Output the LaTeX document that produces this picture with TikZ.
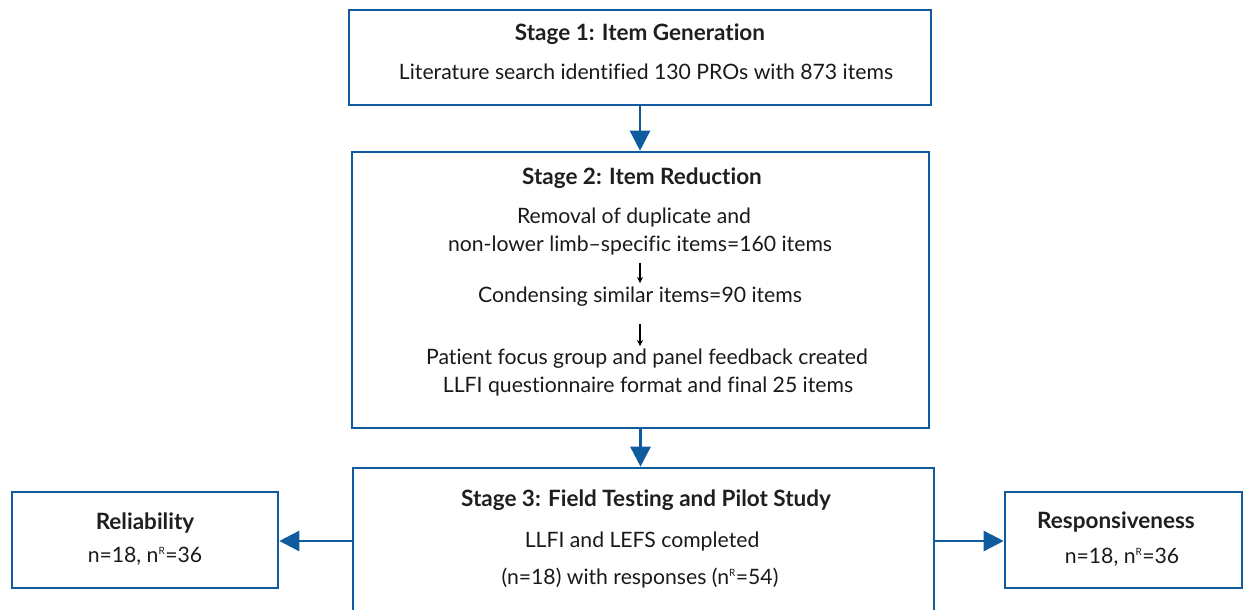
\documentclass[tikz,border=0pt]{standalone}
\usepackage{fontspec}
\setmainfont{Lato}[Ligatures={TeX,NoCommon}]
\usepackage{tikz}
\usetikzlibrary{positioning,arrows.meta,calc}
\definecolor{llfiblue}{RGB}{16,90,158}
\newcommand{\supR}{\textsuperscript{\fontsize{10}{10}\selectfont R}}

\begin{document}
\begin{tikzpicture}[x=1pt,y=-1pt]
        \tikzstyle{stagebox} = [draw=llfiblue,line width=2.6pt,rectangle,inner sep=0pt]
        \tikzstyle{head} = [font=\fontsize{22.5}{26}\selectfont\bfseries,inner sep=0pt,text=black!88]
        \tikzstyle{body} = [font=\fontsize{21.2}{25}\selectfont,inner sep=0pt,text=black!90]
        \tikzstyle{flow} = [draw=llfiblue,line width=2.6pt,-{Triangle[width=20pt,length=20pt]}]
        \tikzstyle{substep} = [draw=black,line width=1.3pt,-{Stealth[width=6pt,length=6pt]}]
        \useasboundingbox (0,0) rectangle (1245,610);
        \clip (0,0) rectangle (1245,610);
        % stage boxes
        \node[stagebox, minimum width=582pt, minimum height=95pt] (s1) at (640,57.5) {};
        \node[stagebox, minimum width=577pt, minimum height=276pt] (s2) at (640.5,290) {};
        \node[stagebox, minimum width=581pt, minimum height=180pt] (s3) at (643.5,558) {};
        \node[stagebox, minimum width=266pt, minimum height=96pt] (rel) at (145,540) {};
        \node[stagebox, minimum width=237pt, minimum height=96pt] (res) at (1123.5,540) {};
        % texts
        \node[head] (s1h) at (640,34) {Stage 1: Item Generation};
        \node[body] (s1b) at (646,72) {Literature search identified 130 PROs with 873 items};
        \node[head] (s2h) at (642,178) {Stage 2: Item Reduction};
        \node[body] (rem1) at (634,218) {Removal of duplicate and};
        \node[body] (rem2) at (640,246) {non-lower limb--specific items=160 items};
        \node[body] (cond) at (640,297) {Condensing similar items=90 items};
        \node[body] (pat1) at (647,359) {Patient focus group and panel feedback created};
        \node[body] (pat2) at (648,387) {LLFI questionnaire format and final 25 items};
        \node[head] (s3h) at (646,500) {Stage 3: Field Testing and Pilot Study};
        \node[body] (s3b1) at (642,542) {LLFI and LEFS completed};
        \node[body] (s3b2) at (640,578) {(n=18) with responses (n\supR=54)};
        \node[head] (relh) at (145,523) {Reliability};
        \node[body] (relb) at (145,556) {n=18, n\supR=36};
        \node[head] (resh) at (1116,522) {Responsiveness};
        \node[body] (resb) at (1122,557) {n=18, n\supR=36};
        % connectors
        \draw[flow] (s1.south) -- (s2.north -| s1.south);
        \draw[flow] (s2.south) -- (s3.north -| s2.south);
        \draw[flow] (s3.west |- 0,541) -- (rel.east |- 0,541);
        \draw[flow] (s3.east |- 0,541) -- (res.west |- 0,541);
        \draw[substep] ($(rem2.south)+(0,7)$) -- ($(cond.north)+(0,-4)$);
        \draw[substep] ($(cond.south)+(0,17)$) -- ($(pat1.north -| cond.south)+(0,-3)$);
\end{tikzpicture}
\end{document}
